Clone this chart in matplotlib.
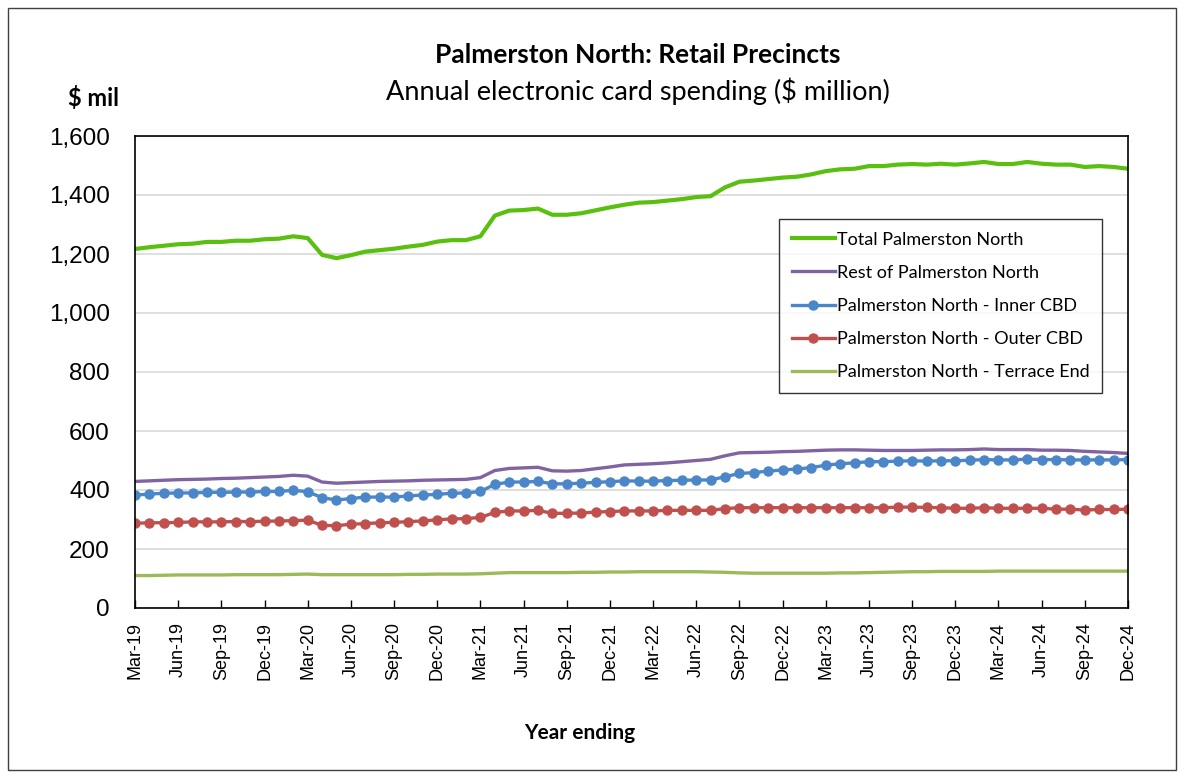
# Palmerston North retail precincts - annual card spending

import numpy as np
import matplotlib.pyplot as plt

# monthly values, Mar-19 .. Dec-24 ($ million)
total = [1217, 1223, 1228, 1233, 1235, 1241, 1241, 1245, 1245, 1250, 1252, 1260,
         1254, 1197, 1186, 1196, 1208, 1213, 1218, 1225, 1231, 1242, 1247, 1247,
         1260, 1330, 1347, 1349, 1354, 1333, 1333, 1338, 1348, 1358, 1367, 1374,
         1376, 1381, 1386, 1393, 1396, 1426, 1445, 1449, 1454, 1459, 1462, 1470,
         1481, 1487, 1489, 1498, 1498, 1503, 1505, 1503, 1506, 1503, 1507, 1512,
         1505, 1505, 1512, 1506, 1503, 1503, 1495, 1498, 1495, 1489]

rest = [429, 431, 433, 435, 436, 437, 439, 440, 442, 444, 446, 450,
        447, 427, 423, 425, 427, 429, 430, 431, 433, 434, 435, 436,
        442, 466, 473, 475, 477, 465, 464, 466, 472, 478, 485, 487,
        489, 492, 496, 500, 504, 516, 526, 527, 528, 530, 531, 533,
        535, 536, 536, 535, 534, 534, 534, 535, 536, 536, 537, 539,
        537, 537, 537, 535, 535, 534, 531, 529, 527, 524]

inner = [383, 386, 389, 390, 390, 392, 392, 393, 393, 395, 395, 399,
         394, 374, 366, 371, 376, 376, 376, 380, 383, 385, 389, 390,
         395, 419, 427, 427, 429, 421, 421, 423, 426, 428, 431, 430,
         430, 432, 433, 434, 434, 445, 456, 459, 464, 468, 471, 476,
         484, 489, 492, 496, 496, 498, 499, 498, 499, 499, 501, 503,
         502, 502, 505, 503, 503, 502, 502, 502, 502, 503]

outer = [287, 289, 289, 290, 292, 292, 292, 293, 293, 294, 295, 296,
         298, 280, 279, 284, 286, 289, 290, 293, 295, 299, 302, 303,
         307, 324, 329, 329, 331, 321, 321, 322, 325, 327, 329, 329,
         329, 331, 331, 331, 331, 337, 340, 340, 340, 340, 340, 340,
         340, 340, 340, 340, 340, 342, 342, 341, 340, 338, 338, 340,
         338, 338, 338, 338, 335, 335, 332, 334, 334, 335]

terrace = [110, 110, 111, 112, 112, 112, 112, 113, 113, 113, 113, 114,
           115, 113, 113, 113, 113, 113, 113, 114, 114, 115, 115, 115,
           116, 118, 120, 120, 120, 120, 120, 121, 121, 122, 122, 123,
           123, 123, 123, 123, 122, 121, 119, 118, 118, 118, 118, 118,
           118, 119, 119, 120, 121, 122, 123, 123, 124, 124, 124, 124,
           125, 125, 125, 125, 125, 125, 125, 125, 125, 125]

quarter_labels = ['Mar-19', 'Jun-19', 'Sep-19', 'Dec-19', 'Mar-20', 'Jun-20',
                  'Sep-20', 'Dec-20', 'Mar-21', 'Jun-21', 'Sep-21', 'Dec-21',
                  'Mar-22', 'Jun-22', 'Sep-22', 'Dec-22', 'Mar-23', 'Jun-23',
                  'Sep-23', 'Dec-23', 'Mar-24', 'Jun-24', 'Sep-24', 'Dec-24']

x = np.arange(len(total))

fig = plt.figure(figsize=(11.84, 7.76), dpi=100)
ax = fig.add_axes([135/1184, 1 - 608/776, (1128-135)/1184, (608-136)/776])

ax.plot(x, total, color='#59C00F', lw=3.0, label='Total Palmerston North')
ax.plot(x, rest, color='#8064A2', lw=2.4, label='Rest of Palmerston North')
ax.plot(x, inner, color='#4A86C8', lw=2.4, marker='o', ms=6.5,
        label='Palmerston North - Inner CBD')
ax.plot(x, outer, color='#C0504D', lw=2.4, marker='o', ms=6.5,
        label='Palmerston North - Outer CBD')
ax.plot(x, terrace, color='#9BBB59', lw=2.4, label='Palmerston North - Terrace End')

ax.set_xlim(0, len(total) - 1)
ax.set_ylim(0, 1600)
ax.set_yticks(np.arange(0, 1601, 200))
ax.set_yticklabels([f'{v:,}' for v in range(0, 1601, 200)],
                   fontsize=17.5, family='Liberation Sans')
ax.set_xticks(np.arange(0, len(total), 3))
ax.set_xticklabels(quarter_labels, rotation=90, fontsize=13, family='Liberation Sans')
ax.tick_params(axis='y', length=0, pad=18)
ax.tick_params(axis='x', direction='in', length=6, width=1, pad=10)
ax.grid(axis='y', color='#D9D9D9', lw=1.2)
ax.set_axisbelow(True)
for s in ax.spines.values():
    s.set_color('black')
    s.set_linewidth(1.2)

leg = ax.legend(loc='upper left', bbox_to_anchor=((779-135)/993, (608-219)/472),
                frameon=True, fancybox=False, edgecolor='black',
                prop={'family': 'Lato', 'size': 13}, handlelength=2.4,
                handletextpad=0.1, labelspacing=0.95, borderpad=0.7,
                borderaxespad=0)
leg.get_frame().set_linewidth(1.0)

fig.text(0.539, 1 - 55/776, 'Palmerston North: Retail Precincts', ha='center',
         va='center', fontsize=19, fontweight='bold', family='Lato')
fig.text(0.539, 1 - 91/776, 'Annual electronic card spending ($ million)',
         ha='center', va='center', fontsize=19.5, family='Lato')
fig.text(94/1184, 1 - 98/776, '$ mil', ha='center', va='center', fontsize=17,
         fontweight='bold', family='Lato')
fig.text(580/1184, 1 - 733/776, 'Year ending', ha='center', va='center',
         fontsize=15, fontweight='bold', family='Lato')

# outer frame
fig.patches.append(plt.Rectangle((8/1184, 6/776), 1168/1184, 762/776,
                                 transform=fig.transFigure, fill=False,
                                 edgecolor='#404040', lw=1.0))

fig.savefig('out.png', dpi=100)
